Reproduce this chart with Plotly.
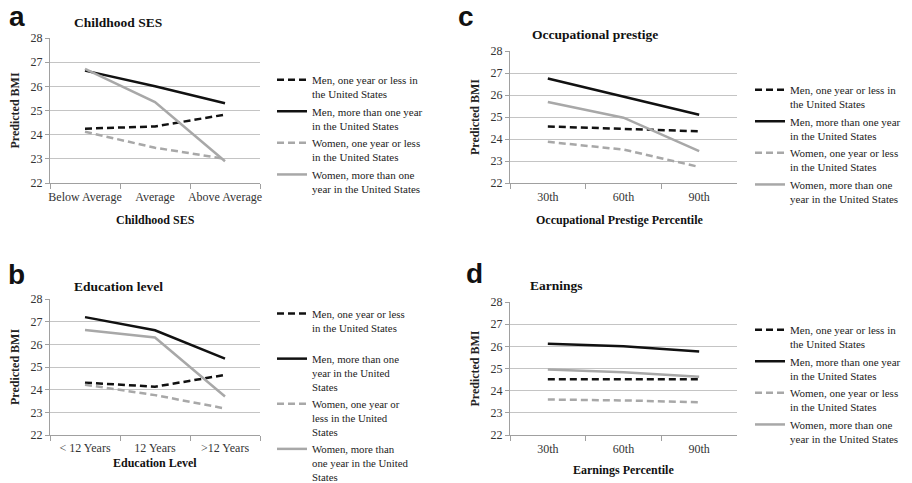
import plotly.graph_objects as go

# ---------------- data ----------------
ses_cats = ["Below Average", "Average", "Above Average"]
edu_cats = ["< 12 Years", "12 Years", ">12 Years"]
occ_cats = ["30th", "60th", "90th"]
earn_cats = ["30th", "60th", "90th"]

ses_men_le1 = [24.25, 24.34, 24.83]
ses_men_gt1 = [26.65, 26.0, 25.3]
ses_wom_le1 = [24.12, 23.46, 23.0]
ses_wom_gt1 = [26.72, 25.35, 22.9]

edu_men_le1 = [24.31, 24.13, 24.65]
edu_men_gt1 = [27.2, 26.62, 25.37]
edu_wom_le1 = [24.22, 23.76, 23.17]
edu_wom_gt1 = [26.63, 26.3, 23.7]

occ_men_le1 = [24.57, 24.47, 24.35]
occ_men_gt1 = [26.75, 25.93, 25.1]
occ_wom_le1 = [23.87, 23.52, 22.73]
occ_wom_gt1 = [25.68, 24.97, 23.45]

earn_men_le1 = [24.52, 24.52, 24.52]
earn_men_gt1 = [26.12, 26.0, 25.77]
earn_wom_le1 = [23.6, 23.56, 23.48]
earn_wom_gt1 = [24.95, 24.83, 24.63]

y_ticks = [22, 23, 24, 25, 26, 27, 28]

names_a = [
    "Men, one year or less in<br>the United States",
    "Men, more than one year<br>in the United States",
    "Women, one year or less<br>in the United States",
    "Women, more than one<br>year in the United States",
]
names_c = [
    "Men, one year or less in<br>the United States",
    "Men, more than one year<br>in the United States",
    "Women, one year or less<br>in the United States",
    "Women, more than one<br>year in the United States",
]
names_b = [
    "Men, one year or less<br>in the United States<br>\u00a0",
    "Men, more than one<br>year in the United<br>States",
    "Women, one year or<br>less in the United<br>States",
    "Women, more than<br>one year in the United<br>States",
]

BLACK = "#111111"
GRAY = "#a8a8a8"
styles = [
    dict(color=BLACK, width=2.5, dash="7px,4px"),
    dict(color=BLACK, width=2.5),
    dict(color=GRAY, width=2.5, dash="7px,4px"),
    dict(color=GRAY, width=2.5),
]

W, H = 912, 483
SERIF = "Liberation Serif, Times New Roman, Times, serif"
SANS = "Liberation Sans, Arial, sans-serif"

def px(x):
    return x / W

def py(y):
    return 1 - y / H

panels = [
    ("a", ses_cats, [ses_men_le1, ses_men_gt1, ses_wom_le1, ses_wom_gt1], names_a,
     "x", "y", "legend", (50, 260), (38, 183), 3),
    ("c", occ_cats, [occ_men_le1, occ_men_gt1, occ_wom_le1, occ_wom_gt1], names_c,
     "x2", "y2", "legend2", (510, 737), (51, 183), 3),
    ("b", edu_cats, [edu_men_le1, edu_men_gt1, edu_wom_le1, edu_wom_gt1], names_b,
     "x3", "y3", "legend3", (50, 260), (299, 435), 2),
    ("d", earn_cats, [earn_men_le1, earn_men_gt1, earn_wom_le1, earn_wom_gt1], names_c,
     "x4", "y4", "legend4", (510, 737), (302, 435), 3),
]

fig = go.Figure()
layout = {}
for key, cats, series, names, xa, ya, lg, (x0, x1), (ytop, ybot), stand in panels:
    for i, (vals, nm) in enumerate(zip(series, names)):
        fig.add_trace(go.Scatter(
            x=cats, y=vals, mode="lines", name=nm, line=styles[i],
            xaxis=xa, yaxis=ya, legend=lg, legendgroup=key + str(i),
            showlegend=True,
        ))
    xkey = "xaxis" + xa[1:]
    ykey = "yaxis" + ya[1:]
    layout[xkey] = dict(
        domain=[px(x0), px(x1)], anchor=ya, type="category",
        range=[-0.5, 2.5], showgrid=False, showline=True, linecolor="#a0a0a0",
        linewidth=1, ticks="outside", tickson="boundaries", ticklen=5,
        ticklabelstandoff=stand,
        tickcolor="#a0a0a0", tickangle=0, automargin=False,
        tickfont=dict(family=SERIF, size=12, color="#333333"),
        zeroline=False, fixedrange=True,
    )
    layout[ykey] = dict(
        domain=[py(ybot), py(ytop)], anchor=xa, range=[22, 28],
        tickvals=y_ticks, showgrid=True, gridcolor="#c4c4c4", gridwidth=1,
        showline=True, linecolor="#a0a0a0", linewidth=1, ticks="outside",
        ticklen=4, tickcolor="#a0a0a0", zeroline=False, automargin=False,
        tickfont=dict(family=SERIF, size=12, color="#333333"),
        title=dict(text="<b>Predicted BMI</b>", font=dict(family=SERIF, size=12, color="#222222"),
                   standoff=8),
    )

leg_common = dict(
    bgcolor="rgba(0,0,0,0)", borderwidth=0, xanchor="left", yanchor="top",
    traceorder="grouped", tracegroupgap=0, itemwidth=30, valign="top",
)
leg_font = dict(family=SERIF, size=11, color="#222222")
leg_font_b = dict(family=SERIF, size=10.8, color="#222222")
layout["legend"] = dict(x=px(272), y=py(66), font=leg_font, **leg_common)
layout["legend2"] = dict(x=px(750), y=py(76), font=leg_font, **leg_common)
layout["legend3"] = dict(x=px(272), y=py(300), font=leg_font_b, **leg_common)
layout["legend4"] = dict(x=px(750), y=py(316), font=leg_font, **leg_common)

annotations = []
def ann(text, x, y, size, family=SERIF, bold=True, xanchor="center", yanchor="middle"):
    annotations.append(dict(
        text=("<b>%s</b>" % text) if bold else text, x=px(x), y=py(y),
        xref="paper", yref="paper", showarrow=False, xanchor=xanchor, yanchor=yanchor,
        font=dict(family=family, size=size, color="#111111"), borderpad=0,
    ))

# panel letters
ann("a", 17, 0, 28, family=SANS, yanchor="top")
ann("c", 466, 0, 28, family=SANS, yanchor="top")
ann("b", 16, 274, 28, family=SANS)
ann("d", 474, 273, 28, family=SANS)
# panel titles
ann("Childhood SES", 118, 22, 13.5)
ann("Occupational prestige", 595, 35, 13.5)
ann("Education level", 118, 286, 13.5)
ann("Earnings", 529, 285, 13.5, xanchor="left")
# x axis titles
ann("Childhood SES", 155, 220, 12)
ann("Occupational Prestige Percentile", 620, 220, 12)
ann("Education Level", 155, 463, 12)
ann("Earnings Percentile", 623, 470, 12)

layout["annotations"] = annotations

fig.update_layout(
    width=W, height=H, margin=dict(l=0, r=0, t=0, b=0, autoexpand=False),
    paper_bgcolor="white", plot_bgcolor="white", **layout,
)

fig.write_html(
    "out.html",
    config={"displayModeBar": False},
    post_script="document.body.style.margin='0';document.body.style.overflow='hidden';",
)
